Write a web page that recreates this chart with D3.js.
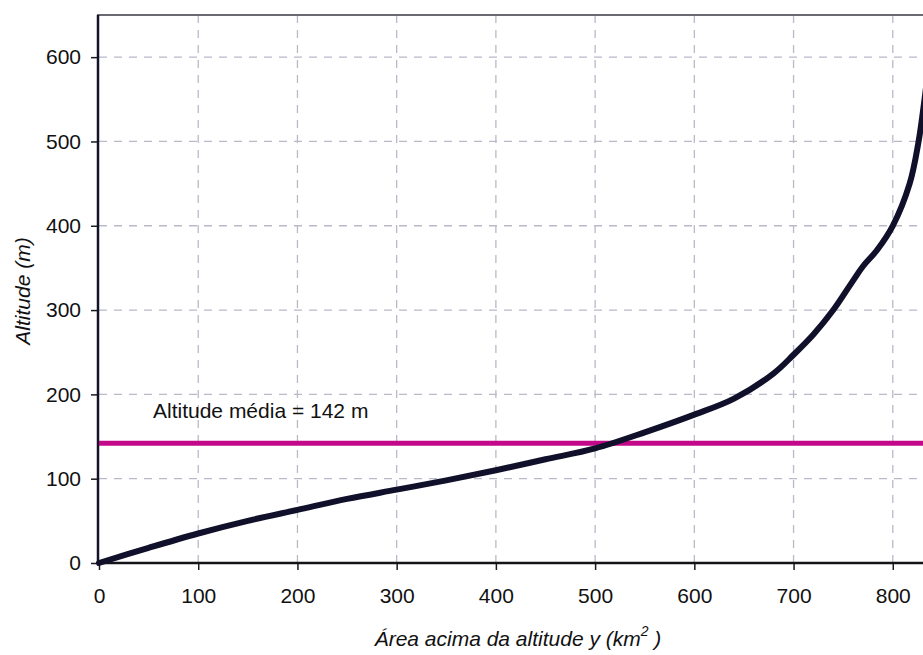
<!DOCTYPE html>
<html>
<head>
<meta charset="utf-8">
<script src="https://cdn.jsdelivr.net/npm/d3@7"></script>
<style>
body { margin: 0; background: #fff; }
svg { display: block; font-family: Arial, "Liberation Sans", sans-serif; }
</style>
</head>
<body>
<svg id="chart" width="923" height="655"></svg>
<script>
// hypsometric curve
var area = [0, 50, 100, 150, 200, 250, 300, 350, 400, 450, 500, 550, 600, 640, 680, 700, 720, 740, 760, 770, 784, 800, 817, 826, 832, 836]
var altitude = [0, 18, 35, 50, 63, 76, 87, 98, 110, 123, 136, 155, 176, 195, 225, 247, 271, 300, 335, 352, 371, 400, 450, 500, 550, 590]
var xTicks = [0, 100, 200, 300, 400, 500, 600, 700, 800]
var yTicks = [0, 100, 200, 300, 400, 500, 600]
var meanAltitude = 142
var meanLabel = "Altitude média = 142 m"

var cCurve = "#10102a"
var cMean = "#c4088a"
var cGrid = "#b9b9c9"

var svg = d3.select("#chart")

var x = d3.scaleLinear().domain([0, 900]).range([99, 992])
var y = d3.scaleLinear().domain([0, 650]).range([563, 15])

var pts = area.map(function(a, i) { return {a: a, h: altitude[i]} })

// grid
svg.append("g")
	.selectAll("line")
	.data(xTicks.slice(1))
	.enter()
	.append("line")
	.attr("x1", function(d) { return x(d) })
	.attr("x2", function(d) { return x(d) })
	.attr("y1", y(650))
	.attr("y2", y(0))
	.attr("stroke", cGrid)
	.attr("stroke-width", 1.3)
	.attr("stroke-dasharray", "8,7")

svg.append("g")
	.selectAll("line")
	.data(yTicks.slice(1))
	.enter()
	.append("line")
	.attr("x1", x(0))
	.attr("x2", x(900))
	.attr("y1", function(d) { return y(d) })
	.attr("y2", function(d) { return y(d) })
	.attr("stroke", cGrid)
	.attr("stroke-width", 1.3)
	.attr("stroke-dasharray", "8,7")

// frame top
svg.append("line")
	.attr("x1", x(0) - 2).attr("x2", x(900))
	.attr("y1", y(650)).attr("y2", y(650))
	.attr("stroke", "#6a6a72")
	.attr("stroke-width", 2)

// axes
var xAxis = svg.append("g")
	.attr("transform", "translate(0," + y(0) + ")")
	.call(d3.axisBottom(x).tickValues(xTicks).tickSize(7).tickPadding(18).tickFormat(d3.format("d")))
var yAxis = svg.append("g")
	.attr("transform", "translate(" + (x(0) - 1) + ",0)")
	.call(d3.axisLeft(y).tickValues(yTicks).tickSize(7).tickPadding(10).tickFormat(d3.format("d")))

svg.selectAll(".domain").remove()
svg.selectAll(".tick line").attr("stroke", "#1a1a22").attr("stroke-width", 1.5)
svg.selectAll(".tick text")
	.attr("fill", "#111")
	.attr("font-size", "21px")
	.attr("font-family", "Arial, 'Liberation Sans', sans-serif")

svg.append("line")
	.attr("x1", x(0) - 1).attr("x2", x(0) - 1)
	.attr("y1", y(650)).attr("y2", y(0) + 1)
	.attr("stroke", "#141428").attr("stroke-width", 2.5)
svg.append("line")
	.attr("x1", x(0) - 2).attr("x2", x(900))
	.attr("y1", y(0)).attr("y2", y(0))
	.attr("stroke", "#141418").attr("stroke-width", 2.5)

// mean altitude line
svg.append("line")
	.attr("x1", x(0)).attr("x2", x(900))
	.attr("y1", y(meanAltitude)).attr("y2", y(meanAltitude))
	.attr("stroke", cMean)
	.attr("stroke-width", 5)

svg.append("text")
	.text(meanLabel)
	.attr("x", 153)
	.attr("y", 418)
	.attr("font-size", "21px")
	.attr("fill", "#111")

// curve
var line = d3.line()
	.x(function(d) { return x(d.a) })
	.y(function(d) { return y(d.h) })
	.curve(d3.curveCatmullRom.alpha(0.5))

svg.append("path")
	.datum(pts)
	.attr("d", line)
	.attr("fill", "none")
	.attr("stroke", cCurve)
	.attr("stroke-width", 6)
	.attr("stroke-linecap", "round")

// axis titles
var xt = svg.append("text")
	.attr("x", 518)
	.attr("y", 646)
	.attr("text-anchor", "middle")
	.attr("font-size", "21px")
	.attr("font-style", "italic")
	.attr("fill", "#111")
xt.append("tspan").text("Área acima da altitude y (km")
xt.append("tspan").text("2").attr("font-size", "14px").attr("dy", -10)
xt.append("tspan").text(" )").attr("dy", 10)

svg.append("text")
	.text("Altitude (m)")
	.attr("transform", "translate(30,291) rotate(-90)")
	.attr("text-anchor", "middle")
	.attr("font-size", "21px")
	.attr("font-style", "italic")
	.attr("fill", "#111")
</script>
</body>
</html>
